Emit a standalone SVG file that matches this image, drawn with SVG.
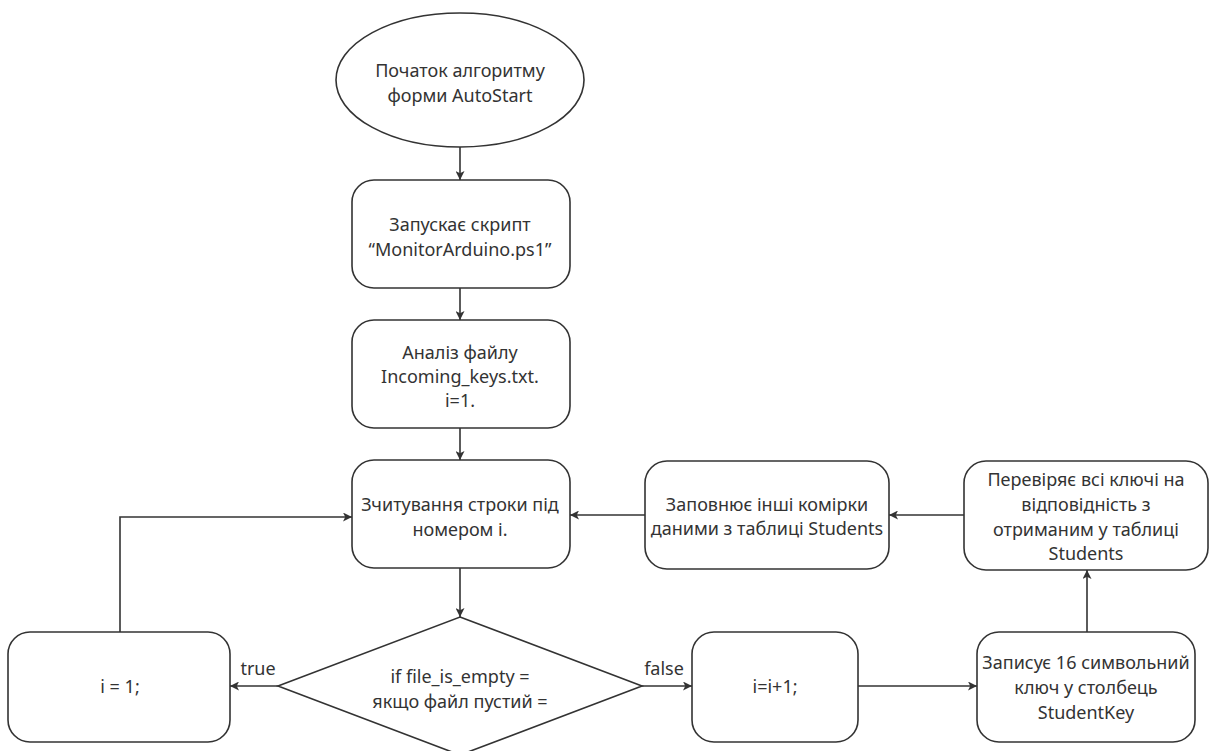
<svg xmlns="http://www.w3.org/2000/svg" width="1209" height="751" viewBox="0 0 1209 751">
<style>
.n{fill:#fff;stroke:#333;stroke-width:1.6}
.t{font-family:"Noto Sans","Open Sans",sans-serif;font-size:18px;fill:#333;text-anchor:middle}
.c{fill:none;stroke:#333;stroke-width:1.6}
</style>
<defs>
<marker id="ah" viewBox="0 0 10 10" refX="10" refY="5" markerWidth="9" markerHeight="9" markerUnits="userSpaceOnUse" orient="auto">
<path d="M0,0 L10,5 L0,10 L2.5,5 z" fill="#333"/>
</marker>
</defs>
<rect width="1209" height="751" fill="#fff"/>
<g id="connectors">
<path class="c" d="M460,147 V180" marker-end="url(#ah)"/>
<path class="c" d="M460,288 V320" marker-end="url(#ah)"/>
<path class="c" d="M460,428 V460" marker-end="url(#ah)"/>
<path class="c" d="M460,568 V617" marker-end="url(#ah)"/>
<path class="c" d="M278,686 H230" marker-end="url(#ah)"/>
<path class="c" d="M120,632 V517 H352" marker-end="url(#ah)"/>
<path class="c" d="M642,686 H692" marker-end="url(#ah)"/>
<path class="c" d="M858,686 H977" marker-end="url(#ah)"/>
<path class="c" d="M1087,632 V570" marker-end="url(#ah)"/>
<path class="c" d="M964,515 H889" marker-end="url(#ah)"/>
<path class="c" d="M645,515 H570" marker-end="url(#ah)"/>
<text class="t" x="258" y="675">true</text>
<text class="t" x="664" y="675">false</text>
</g>
<g id="start">
<ellipse class="n" cx="460" cy="80" rx="124" ry="67"/>
<text class="t" x="460" y="77">Початок алгоритму</text>
<text class="t" x="460" y="102">форми AutoStart</text>
</g>
<g id="run-script">
<rect class="n" x="352" y="180" width="218" height="108" rx="22"/>
<text class="t" x="460" y="231">Запускає скрипт</text>
<text class="t" x="460" y="256">“MonitorArduino.ps1”</text>
</g>
<g id="analyze">
<rect class="n" x="352" y="320" width="218" height="108" rx="22"/>
<text class="t" x="460" y="359">Аналіз файлу</text>
<text class="t" x="460" y="383">Incoming_keys.txt.</text>
<text class="t" x="460" y="407">i=1.</text>
</g>
<g id="read-line">
<rect class="n" x="352" y="460" width="218" height="108" rx="22"/>
<text class="t" x="460" y="511">Зчитування строки під</text>
<text class="t" x="460" y="536">номером і.</text>
</g>
<g id="decision">
<polygon class="n" points="460,617 642,686 460,755 278,686"/>
<text class="t" x="460" y="683">if file_is_empty =</text>
<text class="t" x="460" y="708">якщо файл пустий =</text>
</g>
<g id="reset">
<rect class="n" x="8" y="632" width="222" height="110" rx="22"/>
<text class="t" x="120" y="693">i = 1;</text>
</g>
<g id="increment">
<rect class="n" x="692" y="632" width="166" height="110" rx="22"/>
<text class="t" x="775" y="693">i=i+1;</text>
</g>
<g id="write-key">
<rect class="n" x="977" y="632" width="218" height="110" rx="22"/>
<text class="t" x="1086" y="669">Записує 16 символьний</text>
<text class="t" x="1086" y="694">ключ у столбець</text>
<text class="t" x="1086" y="719">StudentKey</text>
</g>
<g id="check-keys">
<rect class="n" x="964" y="461" width="244" height="109" rx="22"/>
<text class="t" x="1086" y="486">Перевіряє всі ключі на</text>
<text class="t" x="1086" y="511">відповідність з</text>
<text class="t" x="1086" y="536">отриманим у таблиці</text>
<text class="t" x="1086" y="560">Students</text>
</g>
<g id="fill-cells">
<rect class="n" x="645" y="461" width="244" height="108" rx="22"/>
<text class="t" x="767" y="511">Заповнює інші комірки</text>
<text class="t" x="767" y="535">даними з таблиці Students</text>
</g>
</svg>
